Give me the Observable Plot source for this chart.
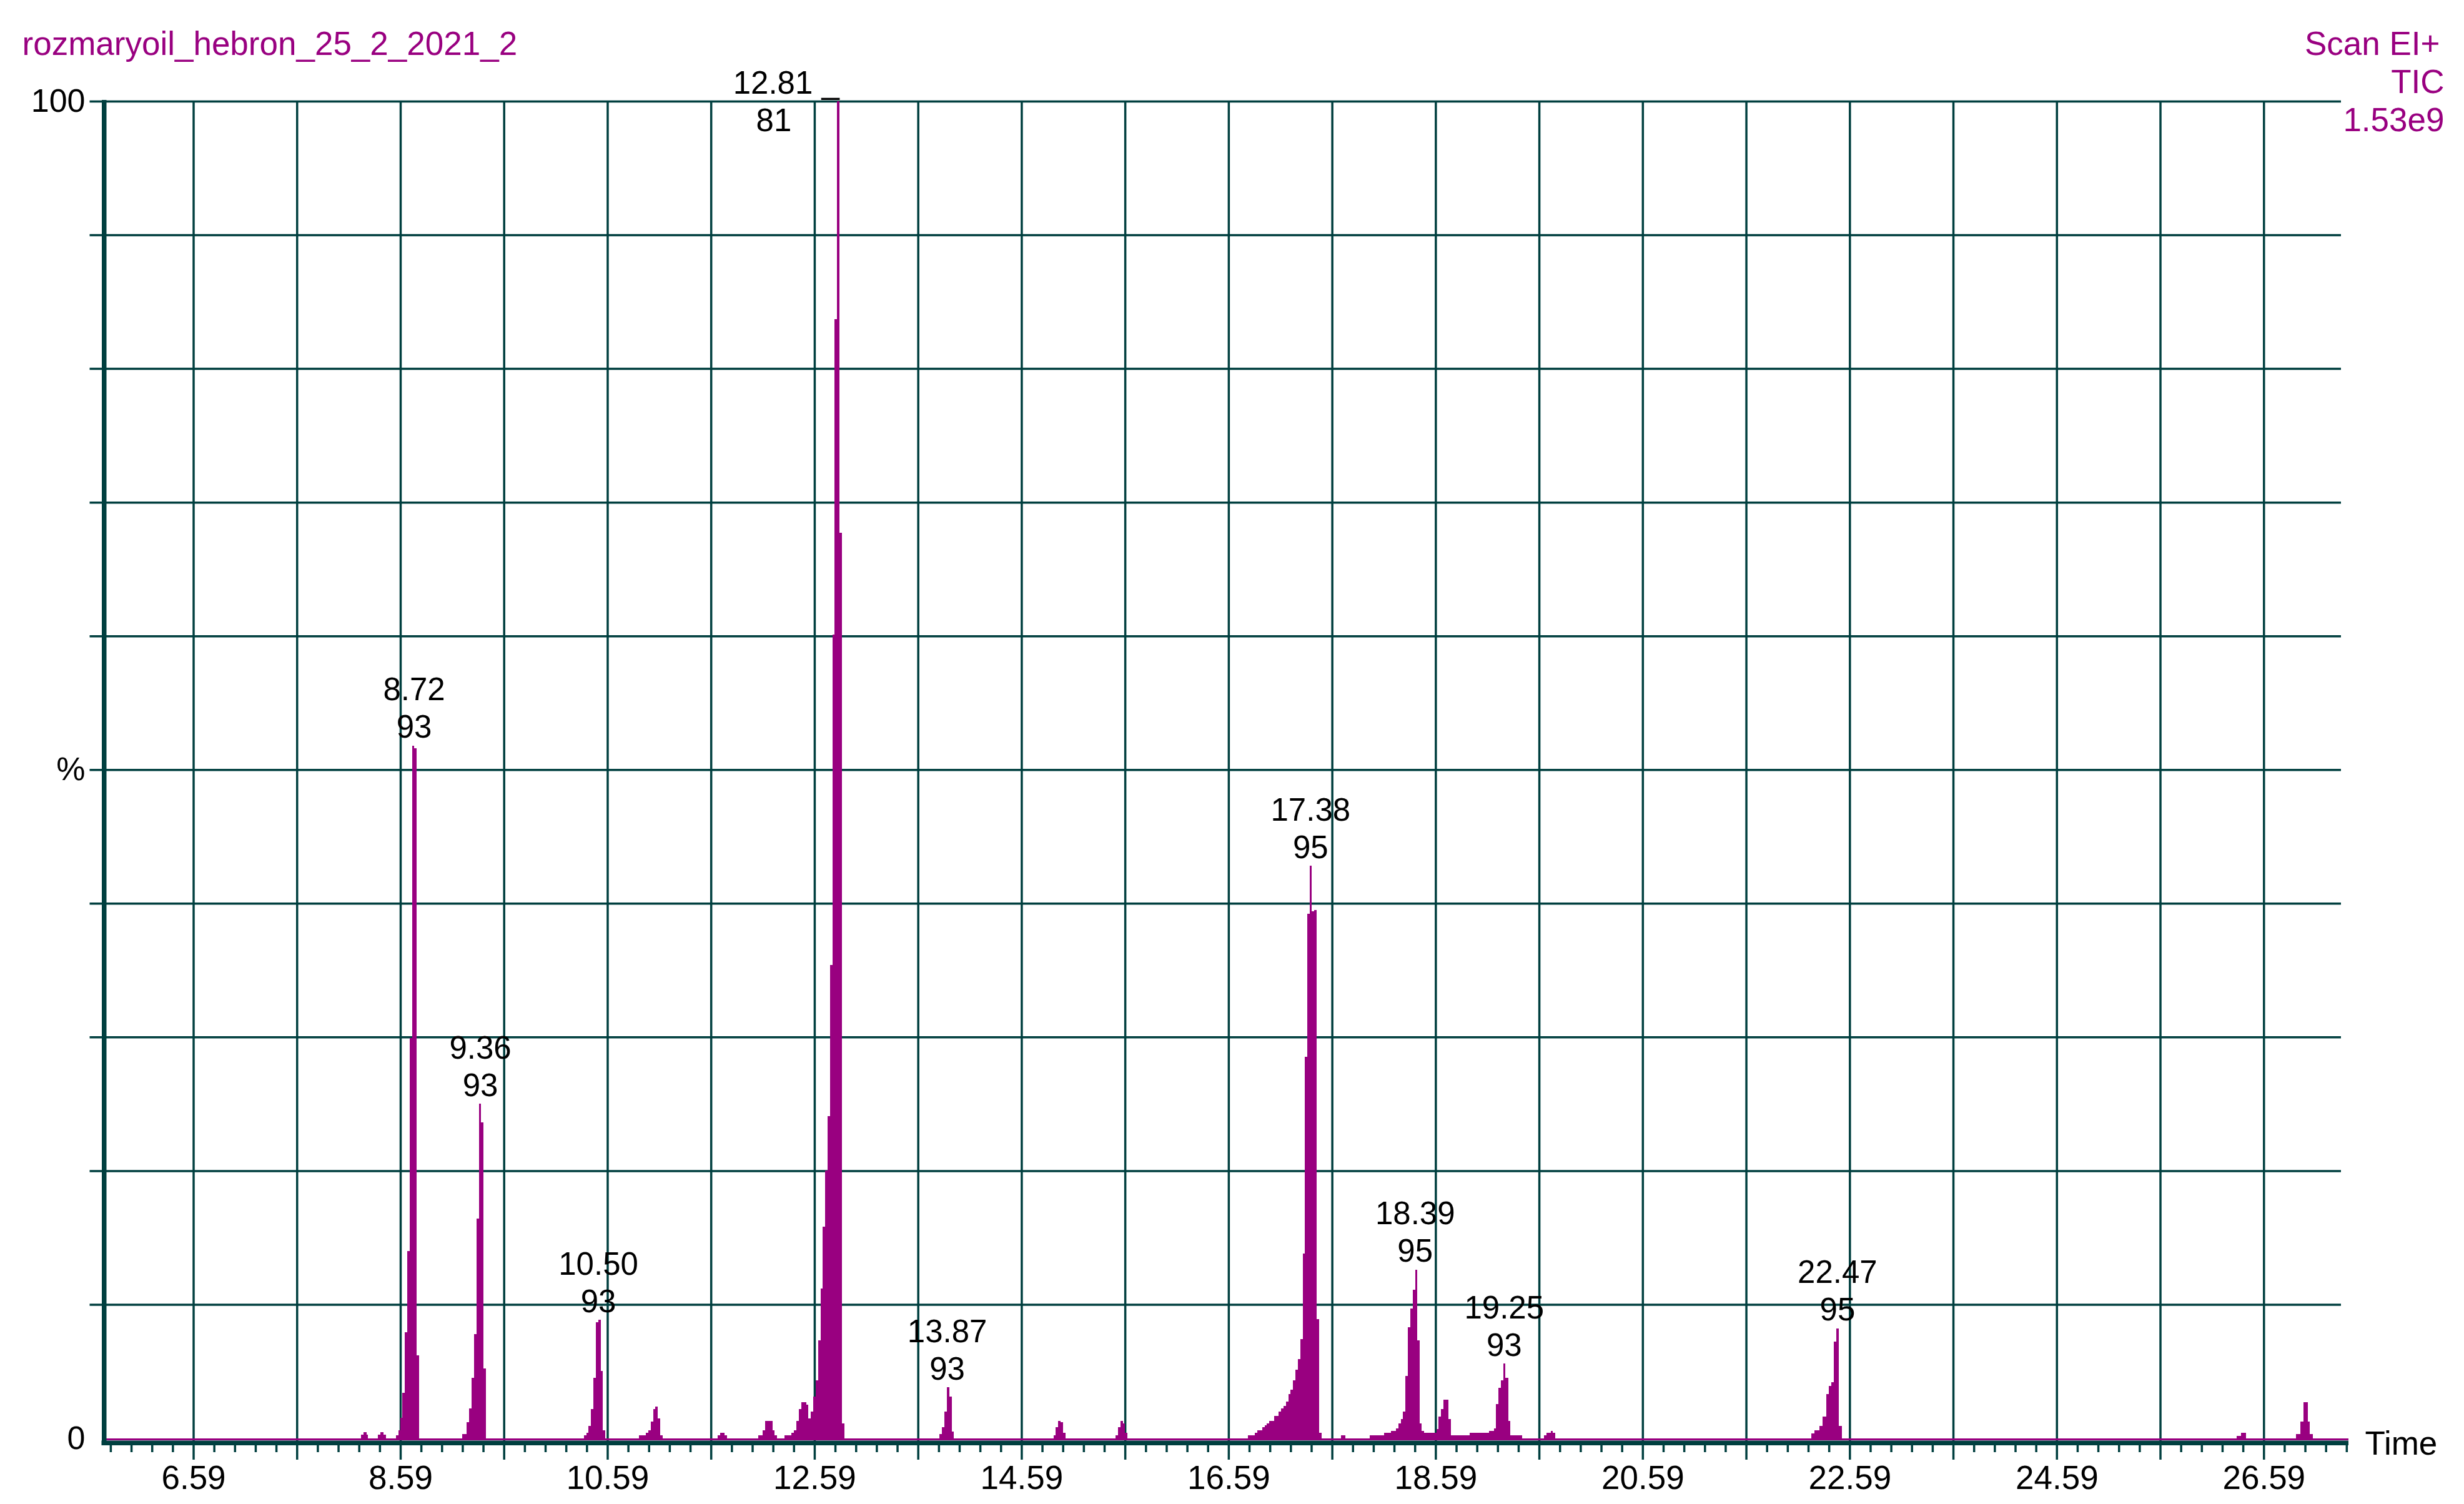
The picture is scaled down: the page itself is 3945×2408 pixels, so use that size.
<!DOCTYPE html>
<html><head><meta charset="utf-8">
<script src="https://cdn.jsdelivr.net/npm/d3@7"></script>
<script src="https://cdn.jsdelivr.net/npm/@observablehq/plot@0.6"></script>
<style>html,body{margin:0;padding:0;background:#fff;} svg{display:block}</style>
</head><body><div id="chart"></div>
<script>
// ---------- texts ----------
const title = "rozmaryoil_hebron_25_2_2021_2";
const headerLines = ["Scan EI+", "TIC", "1.53e9"];
const xAxisName = "Time";
const xTickLabels = [6.59, 8.59, 10.59, 12.59, 14.59, 16.59, 18.59, 20.59, 22.59, 24.59, 26.59];
const xGridTimes = [6.59, 7.59, 8.59, 9.59, 10.59, 11.59, 12.59, 13.59, 14.59, 15.59, 16.59, 17.59, 18.59, 19.59, 20.59, 21.59, 22.59, 23.59, 24.59, 25.59, 26.59];
const yGridValues = [10, 20, 30, 40, 50, 60, 70, 80, 90, 100];
const yTickLabels = [{v: 100, label: "100"}, {v: 50, label: "%"}, {v: 0, label: "0"}];

// ---------- TIC trace, [time (min), intensity (%)] ----------
const bumps82 = [[8.210,0.25],[8.232,0.46],[8.262,0.25],[8.276,0],[8.372,0.25],[8.394,0.46],[8.430,0.25],[8.451,0]];
const peak872 = [[8.545,0.2],[8.569,0.6],[8.589,1.5],[8.611,3.4],[8.635,7.9],[8.657,14.0],[8.681,29.9],[8.704,51.8],[8.725,51.6],[8.748,6.2],[8.770,0]];
const peak936 = [[9.188,0.3],[9.232,1.2],[9.256,2.2],[9.279,4.5],[9.303,7.8],[9.327,16.4],[9.349,25.0],[9.369,23.6],[9.391,5.2],[9.415,0]];
const peak1050 = [[10.364,0.2],[10.386,0.38],[10.408,0.93],[10.432,2.17],[10.456,4.51],[10.478,8.65],[10.502,8.84],[10.524,5.02],[10.546,0.58],[10.569,0]];
const peak1105 = [[10.893,0.2],[10.961,0.38],[10.985,0.58],[11.009,1.26],[11.031,2.15],[11.053,2.35],[11.075,1.48],[11.098,0.2],[11.122,0]];
const bump1168 = [[11.657,0.2],[11.681,0.38],[11.721,0.2],[11.745,0]];
const bump1212 = [[12.045,0.2],[12.091,0.58],[12.115,1.28],[12.139,1.28],[12.184,0.58],[12.206,0.2],[12.230,0]];
const peak1281 = [[12.300,0.2],[12.368,0.4],[12.391,0.58],[12.415,1.28],[12.437,2.17],[12.461,2.7],[12.509,2.5],[12.530,1.47],[12.553,2.0],[12.576,3.1],[12.602,4.3],[12.626,7.3],[12.648,11.2],[12.670,15.8],[12.693,20.0],[12.715,24.1],[12.739,35.4],[12.763,60.1],[12.785,83.7],[12.807,100],[12.829,67.7],[12.853,1.1],[12.877,0]];
const peak1387 = [[13.800,0.3],[13.823,0.8],[13.846,2.0],[13.869,3.8],[13.892,3.1],[13.915,0.5],[13.938,0]];
const peak1495 = [[14.900,0.2],[14.920,0.8],[14.945,1.3],[14.970,1.2],[14.990,0.4],[15.015,0]];
const peak1555 = [[15.500,0.2],[15.520,0.8],[15.545,1.3],[15.570,1.1],[15.590,0.4],[15.615,0]];
const peak1738 = [[16.779,0.2],[16.845,0.4],[16.869,0.6],[16.916,0.8],[16.938,0.94],[16.960,1.1],[16.984,1.3],[17.030,1.67],[17.074,2.0],[17.099,2.2],[17.121,2.4],[17.145,2.75],[17.167,3.3],[17.191,3.6],[17.213,4.3],[17.235,5.1],[17.260,5.9],[17.282,7.4],[17.306,13.8],[17.328,28.5],[17.352,39.2],[17.374,42.8],[17.396,39.4],[17.420,39.5],[17.442,8.9],[17.466,0.4],[17.490,0]];
const bump1770 = [[17.674,0.2],[17.718,0]];
const peak1839 = [[17.955,0.2],[18.092,0.38],[18.160,0.55],[18.209,0.74],[18.231,1.1],[18.255,1.44],[18.277,1.98],[18.299,4.63],[18.323,8.29],[18.345,9.7],[18.370,11.1],[18.392,12.6],[18.412,7.3],[18.436,1.1],[18.458,0.55],[18.482,0.38],[18.599,0.7],[18.621,1.6],[18.643,2.17],[18.667,2.87],[18.712,1.44],[18.736,0.2]];
const peak1925 = [[18.920,0.38],[19.106,0.55],[19.152,0.74],[19.176,2.53],[19.198,3.77],[19.222,4.32],[19.244,5.57],[19.266,4.5],[19.291,1.28],[19.313,0.2],[19.427,0]];
const bump1970 = [[19.636,0.2],[19.660,0.38],[19.705,0.55],[19.725,0.38],[19.749,0]];
const peak2247 = [[22.219,0.35],[22.251,0.6],[22.299,0.9],[22.331,1.6],[22.363,3.3],[22.387,3.9],[22.412,4.2],[22.436,7.2],[22.460,8.2],[22.484,0.9],[22.516,0]];
const bump2637 = [[26.329,0.16],[26.374,0.38],[26.422,0]];
const peak2697 = [[26.905,0.3],[26.945,1.24],[26.977,2.7],[27.017,1.24],[27.037,0.3],[27.065,0]];

// labelled peaks: retention time and base-peak m/z
const peakTimes = ["8.72", "9.36", "10.50", "12.81", "13.87", "17.38", "18.39", "19.25", "22.47"];
const peakMz = ["93", "93", "93", "81", "93", "95", "95", "93", "95"];

// ---------- layout ----------
const W = 3945, H = 2408;
const ML = 162.5, MR = 185, MT = 162, MB = 105.5;
const X0 = 5.703, X1 = 27.409;
const pxPerMin = (W - ML - MR) / (X1 - X0);
const pxPerPct = (H - MT - MB) / 100;
const px2t = p => X0 + (p - ML) / pxPerMin;
const py2v = p => (H - MB - p) / pxPerPct;

const PURPLE = "#990080";
const GRID = "#003f3f";
const FONT = "'Liberation Sans', Arial, sans-serif";

const trace = [[X0, 0]]
  .concat(bumps82, peak872, peak936, peak1050, peak1105, bump1168, bump1212, peak1281,
          peak1387, peak1495, peak1555, peak1738, bump1770, peak1839, peak1925, bump1970,
          peak2247, bump2637, peak2697, [[X1, 0]])
  .map(([t, v]) => ({t, v}))
  .sort((a, b) => a.t - b.t);

const labels = peakTimes.map((rt, i) => {
  const t = +rt;
  const apex = d3.max(trace.filter(d => Math.abs(d.t - t) < 0.04), d => d.v);
  return {t, rt, mz: peakMz[i], apex};
});
const normalLabels = labels.filter(d => d.apex < 95);
const topLabels = labels.filter(d => d.apex >= 95);

const minorTicks = d3.range(0, 109).map(k => 5.79 + 0.2 * k)
  .filter(t => t < X1 && Math.abs(((t - 6.59) % 1 + 1) % 1) > 0.05 && Math.abs(((t - 6.59) % 1 + 1) % 1) < 0.95);

const plot = Plot.plot({
  width: W, height: H,
  marginLeft: ML, marginRight: MR, marginTop: MT, marginBottom: MB,
  x: {domain: [X0, X1], axis: null},
  y: {domain: [0, 100], axis: null},
  style: {fontFamily: FONT, background: "#fff", overflow: "visible"},
  marks: [
    Plot.ruleY(yGridValues, {y: d => d, x1: () => px2t(143.5), x2: () => px2t(3748), stroke: GRID, strokeWidth: 3.5}),
    Plot.ruleX(xGridTimes, {x: d => d, y1: () => 100, y2: () => py2v(2337), stroke: GRID, strokeWidth: 3.5}),
    Plot.ruleX(minorTicks, {x: d => d, y1: () => py2v(2312), y2: () => py2v(2325), stroke: GRID, strokeWidth: 3.5}),
    Plot.areaY(trace, {x: "t", y1: () => py2v(2306), y2: "v", curve: "step-after", fill: PURPLE, shapeRendering: "crispEdges"}),
    Plot.ruleY([0], {y: () => py2v(2309.75), stroke: GRID, strokeWidth: 7.5}),
    Plot.ruleX([0], {x: () => px2t(166.25), y1: () => py2v(160), y2: () => py2v(2313.5), stroke: GRID, strokeWidth: 7.5}),
    // x tick labels
    Plot.text(xTickLabels, {x: d => d, y: () => 0, text: d => d.toFixed(2), dy: 80.5, lineAnchor: "bottom", fontSize: 53, fill: "#000"}),
    // y tick labels
    Plot.text(yTickLabels, {x: () => X0, y: "v", text: "label", textAnchor: "end", dx: -26.5, lineAnchor: "middle", fontSize: 52, fill: "#000"}),
    // peak annotations
    Plot.text(normalLabels, {x: "t", y: "apex", text: "rt", dy: -73, lineAnchor: "bottom", fontSize: 51, fill: "#000"}),
    Plot.text(normalLabels, {x: "t", y: "apex", text: "mz", dy: -13, lineAnchor: "bottom", fontSize: 51, fill: "#000"}),
    Plot.text(topLabels, {x: "t", y: "apex", text: d => d.rt + " _", textAnchor: "end", dx: 3, dy: -13, lineAnchor: "bottom", fontSize: 51, fill: "#000"}),
    Plot.text(topLabels, {x: "t", y: "apex", text: "mz", dx: -102, dy: 47, lineAnchor: "bottom", fontSize: 51, fill: "#000"}),
    // header
    Plot.text([title], {frameAnchor: "top-left", text: d => d, textAnchor: "start", dx: 35 - ML, dy: -75, lineAnchor: "bottom", fontSize: 53, fill: PURPLE}),
    Plot.text([headerLines[0]], {frameAnchor: "top-right", text: d => d, textAnchor: "end", dx: 3906 - (W - MR), dy: -75, lineAnchor: "bottom", fontSize: 53, fill: PURPLE}),
    Plot.text([headerLines[1]], {frameAnchor: "top-right", text: d => d, textAnchor: "end", dx: 3913 - (W - MR), dy: -14, lineAnchor: "bottom", fontSize: 53, fill: PURPLE}),
    Plot.text([headerLines[2]], {frameAnchor: "top-right", text: d => d, textAnchor: "end", dx: 3913 - (W - MR), dy: 47, lineAnchor: "bottom", fontSize: 53, fill: PURPLE}),
    Plot.text([xAxisName], {frameAnchor: "bottom-right", text: d => d, textAnchor: "start", dx: 3786 - (W - MR), dy: 25.5, lineAnchor: "bottom", fontSize: 53, fill: "#000"})
  ]
});
document.getElementById("chart").appendChild(plot);
</script>
</body></html>
